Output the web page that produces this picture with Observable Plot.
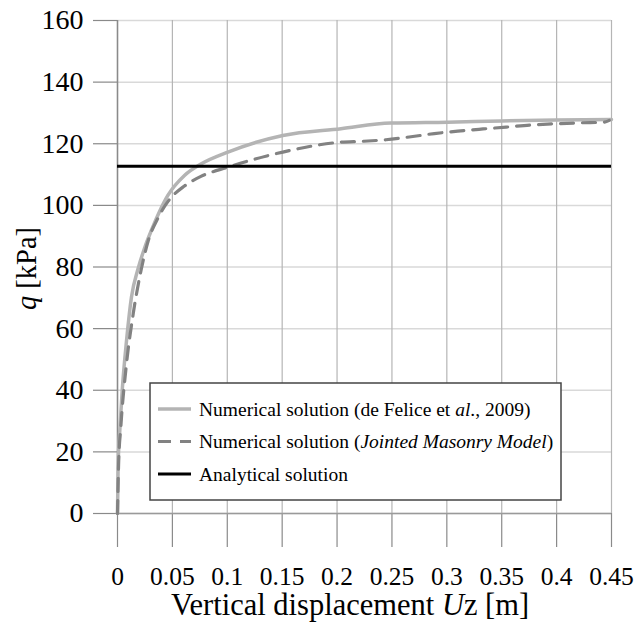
<!DOCTYPE html>
<html>
<head>
<meta charset="utf-8">
<script src="https://cdn.jsdelivr.net/npm/d3@7"></script>
<script src="https://cdn.jsdelivr.net/npm/@observablehq/plot@0.6"></script>
<style>
  html, body { margin: 0; padding: 0; background: #fff; }
  #chart { width: 638px; height: 622px; }
  #chart svg, #chart svg text { font-family: "Liberation Serif", "Times New Roman", Times, serif !important; }
</style>
</head>
<body>
<div id="chart"></div>
<script>
// ---- data ----
const xTicks = [0, 0.05, 0.1, 0.15, 0.2, 0.25, 0.3, 0.35, 0.4, 0.45];
const xTickLabels = ["0", "0.05", "0.1", "0.15", "0.2", "0.25", "0.3", "0.35", "0.4", "0.45"];
const yTicks = [0, 20, 40, 60, 80, 100, 120, 140, 160];

// Numerical solution (de Felice et al., 2009)
const felU = [0, 0.0006, 0.0021, 0.0043, 0.0082, 0.0127, 0.0188, 0.025, 0.031, 0.038, 0.046, 0.061, 0.0764, 0.1006, 0.1506, 0.2036, 0.249, 0.3006, 0.35, 0.40, 0.45];
const felQ = [0, 16, 27, 40, 56, 70.2, 79.5, 86.5, 92, 97.8, 103.3, 109.7, 113.5, 117.3, 122.7, 124.9, 126.7, 127.0, 127.4, 127.7, 127.9];

// Numerical solution (Jointed Masonry Model)
const jmmU = [0, 0.001, 0.003, 0.0082, 0.0143, 0.0218, 0.028, 0.037, 0.046, 0.061, 0.076, 0.1006, 0.1506, 0.2036, 0.2234, 0.2445, 0.2657, 0.2886, 0.31, 0.333, 0.354, 0.377, 0.40, 0.422, 0.443, 0.448];
const jmmQ = [0, 16, 28, 48.6, 64.8, 79.5, 88.5, 96, 101.3, 106.3, 109.4, 112.4, 117.3, 120.5, 120.8, 121.3, 122.2, 123.3, 124.1, 124.8, 125.4, 126.1, 126.5, 126.8, 127.0, 127.6];

// Analytical solution
const analyticalQ = 112.7;

const legendLabels = [
  ["Numerical solution (de Felice et ", ["al", true], "., 2009)"],
  ["Numerical solution (", ["Jointed Masonry Model", true], ")"],
  ["Analytical solution"]
];

// ---- build ----
const fel = felU.map((u, i) => ({u, q: felQ[i]}));
const jmm = jmmU.map((u, i) => ({u, q: jmmQ[i]}));

const W = 638, H = 622;
const mL = 117, mR = 27, mT = 20, mB = 109;
const font = "Liberation Serif, Times New Roman, Times, serif";

const chart = Plot.plot({
  width: W,
  height: H,
  marginLeft: mL,
  marginRight: mR,
  marginTop: mT,
  marginBottom: mB,
  style: {fontFamily: font, background: "#fff", color: "#000", overflow: "visible"},
  x: {domain: [0, 0.45]},
  y: {domain: [0, 160]},
  marks: [
    Plot.gridY(yTicks, {stroke: "#d9d9d9", strokeOpacity: 1, strokeWidth: 1.5}),
    Plot.gridX(xTicks, {stroke: "#b5b5b5", strokeOpacity: 1, strokeWidth: 1.2}),
    Plot.axisX(xTicks, {
      tickSize: 34, tickPadding: 19, fontSize: 25.5, stroke: "#8a8a8a", strokeWidth: 1.2,
      tickFormat: (d, i) => xTickLabels[i], label: null
    }),
    Plot.axisY(yTicks, {
      tickSize: 24, tickPadding: 10, fontSize: 28, stroke: "#8a8a8a", strokeWidth: 1.2,
      label: null
    }),
    Plot.ruleX([0], {stroke: "#8a8a8a", strokeWidth: 1.5}),
    Plot.ruleY([0], {stroke: "#9a9a9a", strokeWidth: 1.5}),
    Plot.line(fel, {x: "u", y: "q", stroke: "#b4b4b4", strokeWidth: 3.5, curve: "monotone-x"}),
    Plot.line(jmm, {x: "u", y: "q", stroke: "#828282", strokeWidth: 3.2, strokeDasharray: "13,9", curve: "monotone-x"}),
    Plot.ruleY([analyticalQ], {stroke: "#000", strokeWidth: 3})
  ]
});

document.getElementById("chart").appendChild(chart);

// ---- axis titles & legend (appended into the SVG) ----
const svg = d3.select(chart);
const xs = chart.scale("x"), ys = chart.scale("y");

// x title
const xt = svg.append("text")
  .attr("x", (xs.apply(0) + xs.apply(0.45)) / 2 - 14)
  .attr("y", 615)
  .attr("text-anchor", "middle")
  .attr("font-size", 30.5)
  .attr("fill", "#000");
xt.append("tspan").text("Vertical displacement ");
xt.append("tspan").attr("font-style", "italic").text("U");
xt.append("tspan").text("z [m]");

// y title
const yt = svg.append("text")
  .attr("transform", `translate(36,${(ys.apply(0) + ys.apply(160)) / 2 + 2}) rotate(-90)`)
  .attr("text-anchor", "middle")
  .attr("font-size", 28.5)
  .attr("fill", "#000");
yt.append("tspan").attr("font-style", "italic").text("q");
yt.append("tspan").text(" [kPa]");

// legend
const lg = svg.append("g").attr("transform", "translate(150,383)");
lg.append("rect").attr("width", 411).attr("height", 117)
  .attr("fill", "#fff").attr("stroke", "#444").attr("stroke-width", 1.5);
const styles = [
  {stroke: "#b4b4b4", width: 3.5, dash: null},
  {stroke: "#828282", width: 3.2, dash: "13,9"},
  {stroke: "#000", width: 3, dash: null}
];
legendLabels.forEach((parts, i) => {
  const y = 26 + i * 32.5;
  const s = styles[i];
  lg.append("line").attr("x1", 8).attr("x2", 41).attr("y1", y).attr("y2", y)
    .attr("stroke", s.stroke).attr("stroke-width", s.width)
    .attr("stroke-dasharray", s.dash);
  const t = lg.append("text").attr("x", 49).attr("y", y).attr("dy", "0.35em")
    .attr("text-anchor", "start")
    .attr("font-size", 19.5).attr("fill", "#000");
  parts.forEach(p => {
    if (Array.isArray(p)) t.append("tspan").attr("font-style", "italic").text(p[0]);
    else t.append("tspan").text(p);
  });
});
</script>
</body>
</html>
